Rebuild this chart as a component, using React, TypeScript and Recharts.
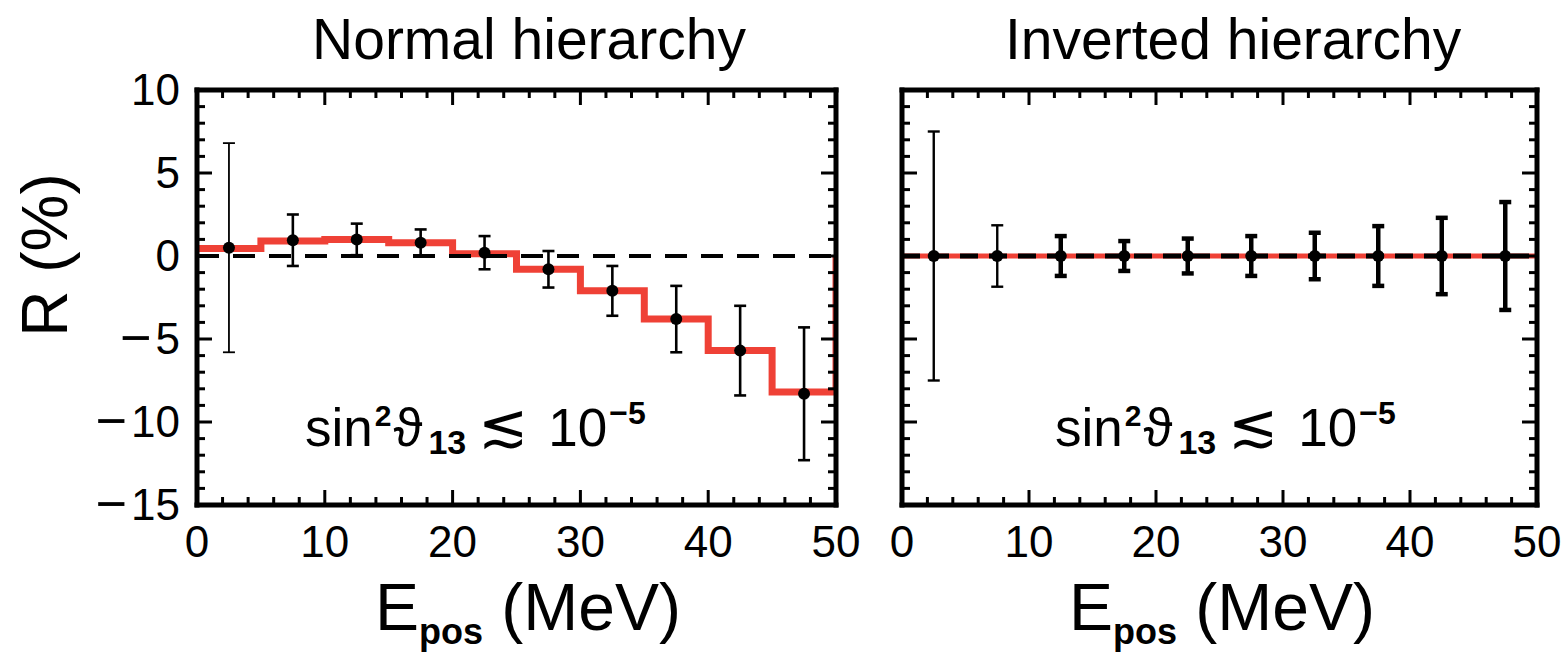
import React from "react";
import { ComposedChart, ErrorBar, Line, Scatter, XAxis, YAxis } from "recharts";

// bin edges / centres in MeV
const binEdges = [0, 5, 10, 15, 20, 25, 30, 35, 40, 45, 50];
const binCenters = [2.5, 7.5, 12.5, 17.5, 22.5, 27.5, 32.5, 37.5, 42.5, 47.5];

// normal hierarchy: expected R per bin (red histogram) and simulated points
const nhModel = [0.45, 0.9, 1.0, 0.8, 0.14, -0.8, -2.1, -3.8, -5.7, -8.2];
const nhPoints = [0.5, 0.95, 1.0, 0.8, 0.2, -0.8, -2.1, -3.8, -5.7, -8.3];
const nhErrors = [6.3, 1.55, 0.95, 0.8, 1.0, 1.1, 1.5, 2.0, 2.7, 4.0];

// inverted hierarchy
const ihModel = [0, 0, 0, 0, 0, 0, 0, 0, 0, 0];
const ihPoints = [0, 0, 0, 0, 0, 0, 0, 0, 0, 0];
const ihErrors = [7.5, 1.85, 1.2, 0.9, 1.05, 1.2, 1.4, 1.8, 2.3, 3.25];

const xTicks = [0, 2, 4, 6, 8, 10, 12, 14, 16, 18, 20, 22, 24, 26, 28, 30, 32, 34, 36, 38, 40, 42, 44, 46, 48, 50];
const yTicks = [-15, -14, -13, -12, -11, -10, -9, -8, -7, -6, -5, -4, -3, -2, -1, 0, 1, 2, 3, 4, 5, 6, 7, 8, 9, 10];
const xMajor = [0, 10, 20, 30, 40, 50];
const yMajor = [-15, -10, -5, 0, 5, 10];

const FONT = "'Liberation Sans', Arial, sans-serif";
const RED = "#ef4136";
const zeroLine = [
  { x: 0, y: 0 },
  { x: 50, y: 0 },
];

function stepData(values: number[]) {
  const d = values.map((v, i) => ({ x: binEdges[i], y: v }));
  d.push({ x: binEdges[binEdges.length - 1], y: values[values.length - 1] });
  d.push({ x: binEdges[binEdges.length - 1], y: 0 });
  return d;
}

function pointData(ys: number[], errs: number[]) {
  return binCenters.map((x, i) => ({ x, y: ys[i], err: errs[i] }));
}

const frame = { stroke: "#000", strokeWidth: 5, strokeLinecap: "square" as const };

function xTick(side: "top" | "bottom", labels: boolean) {
  return (p: any) => {
    const v = Number(p.payload.value);
    const major = xMajor.includes(v);
    const len = major ? 15 : 8;
    const dir = side === "bottom" ? -1 : 1;
    return (
      <g>
        <line x1={p.x} y1={p.y} x2={p.x} y2={p.y + dir * len} stroke="#000" strokeWidth={3} />
        {labels && major && (
          <text x={p.x} y={p.y + 52} textAnchor="middle" fontSize={44} fontFamily={FONT} fill="#000">
            {v}
          </text>
        )}
      </g>
    );
  };
}

function yTick(side: "left" | "right", labels: boolean) {
  return (p: any) => {
    const v = Number(p.payload.value);
    const major = yMajor.includes(v);
    const len = major ? 15 : 8;
    const dir = side === "left" ? 1 : -1;
    return (
      <g>
        <line x1={p.x} y1={p.y} x2={p.x + dir * len} y2={p.y} stroke="#000" strokeWidth={3} />
        {labels && major && (
          <text x={p.x - 17} y={p.y + 15} textAnchor="end" fontSize={44} fontFamily={FONT} fill="#000">
            {v < 0 ? (
              <>
                <tspan fontSize={54} dy={2}>
                  {"\u2212"}
                </tspan>
                <tspan dx={4} dy={-2}>
                  {Math.abs(v)}
                </tspan>
              </>
            ) : (
              v
            )}
          </text>
        )}
      </g>
    );
  };
}

const dot = (p: any) => <circle cx={p.cx} cy={p.cy} r={6} fill="#000" />;

type PanelProps = {
  width: number;
  left: number;
  right: number;
  model: number[];
  points: { x: number; y: number; err: number }[];
  thin: number;
  thinWidth: number;
  thickWidth: number;
  yLabels: boolean;
  redWidth: number;
  dashWidth: number;
  dash: string;
};

function Panel(p: PanelProps) {
  // each axis takes 1px, so margins are one short of the plot box
  return (
    <ComposedChart width={p.width} height={655} margin={{ top: 89, bottom: 149, left: p.left - 1, right: p.right - 1 }}>
      <XAxis
        xAxisId="b"
        type="number"
        dataKey="x"
        domain={[0, 50]}
        ticks={xTicks}
        interval={0}
        height={1}
        tickSize={0}
        tickMargin={0}
        axisLine={frame}
        tickLine={false}
        tick={xTick("bottom", true)}
        allowDataOverflow
      />
      <XAxis
        xAxisId="t"
        orientation="top"
        type="number"
        dataKey="x"
        domain={[0, 50]}
        ticks={xTicks}
        interval={0}
        height={1}
        tickSize={0}
        tickMargin={0}
        axisLine={frame}
        tickLine={false}
        tick={xTick("top", false)}
        allowDataOverflow
      />
      <YAxis
        yAxisId="l"
        type="number"
        domain={[-15, 10]}
        ticks={yTicks}
        interval={0}
        width={1}
        tickSize={0}
        tickMargin={0}
        axisLine={frame}
        tickLine={false}
        tick={yTick("left", p.yLabels)}
        allowDataOverflow
      />
      <YAxis
        yAxisId="r"
        orientation="right"
        type="number"
        domain={[-15, 10]}
        ticks={yTicks}
        interval={0}
        width={1}
        tickSize={0}
        tickMargin={0}
        axisLine={frame}
        tickLine={false}
        tick={yTick("right", false)}
        allowDataOverflow
      />
      <Line
        xAxisId="b"
        yAxisId="l"
        data={stepData(p.model)}
        dataKey="y"
        type="stepAfter"
        stroke={RED}
        strokeWidth={p.redWidth}
        dot={false}
        isAnimationActive={false}
      />
      <Line
        xAxisId="b"
        yAxisId="l"
        data={zeroLine}
        dataKey="y"
        stroke="#000"
        strokeWidth={p.dashWidth}
        strokeDasharray={p.dash}
        dot={false}
        isAnimationActive={false}
      />
      <Scatter
        xAxisId="b"
        yAxisId="l"
        data={p.points.slice(0, p.thin)}
        dataKey="y"
        shape={dot}
        isAnimationActive={false}
      >
        <ErrorBar dataKey="err" direction="y" width={6} stroke="#000" strokeWidth={p.thinWidth} isAnimationActive={false} />
      </Scatter>
      <Scatter
        xAxisId="b"
        yAxisId="l"
        data={p.points.slice(p.thin)}
        dataKey="y"
        shape={dot}
        isAnimationActive={false}
      >
        <ErrorBar dataKey="err" direction="y" width={6} stroke="#000" strokeWidth={p.thickWidth} isAnimationActive={false} />
      </Scatter>
    </ComposedChart>
  );
}

const abs = (s: React.CSSProperties): React.CSSProperties => ({
  position: "absolute",
  fontFamily: FONT,
  color: "#000",
  whiteSpace: "nowrap",
  lineHeight: 1,
  ...s,
});

function Theta({ left }: { left: number }) {
  return (
    <div style={abs({ left, top: 396, fontSize: 53 })}>
      sin<sup style={{ fontSize: 30, fontWeight: "bold", verticalAlign: 20, marginLeft: 2 }}>2</sup>
      <span style={{ marginLeft: 2 }}>{"\u03D1"}</span>
      <sub style={{ fontSize: 34, fontWeight: "bold", verticalAlign: -8, marginLeft: 6 }}>13</sub>
      <span style={{ marginLeft: 12, marginRight: 20, fontSize: 60 }}>{"\u2272"}</span>10
      <sup style={{ fontSize: 32, fontWeight: "bold", verticalAlign: 22, marginLeft: 2 }}>{"\u22125"}</sup>
    </div>
  );
}

function XTitle({ center }: { center: number }) {
  return (
    <div style={abs({ left: center - 200, width: 400, top: 574, fontSize: 66, textAlign: "center" })}>
      E<sub style={{ fontSize: 36, fontWeight: "bold", verticalAlign: -14 }}>pos</sub> (MeV)
    </div>
  );
}

export default function App() {
  return (
    <div style={{ position: "absolute", left: 0, top: 0, width: 1562, height: 655, background: "#fff" }}>
      <div style={{ position: "absolute", left: 0, top: 0 }}>
        <Panel
          width={870}
          left={197}
          right={34}
          model={nhModel}
          points={pointData(nhPoints, nhErrors)}
          thin={1}
          thinWidth={1.8}
          thickWidth={2.6}
          yLabels
          redWidth={7}
          dashWidth={4}
          dash="22 14"
        />
      </div>
      <div style={{ position: "absolute", left: 870, top: 0 }}>
        <Panel
          width={692}
          left={32}
          right={25}
          model={ihModel}
          points={pointData(ihPoints, ihErrors)}
          thin={2}
          thinWidth={2.4}
          thickWidth={4.5}
          yLabels={false}
          redWidth={5}
          dashWidth={5}
          dash="18 11"
        />
      </div>
      <div style={abs({ left: 309, width: 440, top: 11, fontSize: 57, textAlign: "center" })}>Normal hierarchy</div>
      <div style={abs({ left: 1005, width: 455, top: 11, fontSize: 57, textAlign: "center" })}>Inverted hierarchy</div>
      <div
        style={abs({
          left: 45 - 100,
          width: 200,
          top: 255 - 32,
          fontSize: 64,
          textAlign: "center",
          transform: "rotate(-90deg)",
        })}
      >
        R (%)
      </div>
      <Theta left={305} />
      <Theta left={1055} />
      <XTitle center={528} />
      <XTitle center={1222} />
    </div>
  );
}
